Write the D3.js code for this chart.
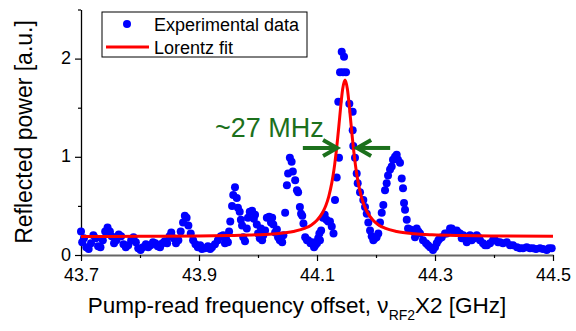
<!DOCTYPE html>
<html>
<head>
<meta charset="utf-8">
<script src="https://cdn.jsdelivr.net/npm/d3@7"></script>
<style>
  body { margin: 0; background: #fff; }
  svg { font-family: "Liberation Sans", Arial, sans-serif; }
</style>
</head>
<body>
<div id="chart"></div>
<script>
// experimental points [frequency GHz, reflected power a.u.]
const expData = [
  [43.700,0.24],[43.702,0.13],[43.705,0.17],[43.709,0.08],[43.713,0.06],[43.717,0.12],[43.721,0.20],[43.725,0.17],
  [43.729,0.09],[43.733,0.08],[43.737,0.15],[43.741,0.24],[43.745,0.28],[43.749,0.24],[43.752,0.19],[43.756,0.12],
  [43.760,0.15],[43.764,0.21],[43.768,0.19],[43.772,0.11],[43.776,0.08],[43.780,0.10],[43.785,0.15],[43.789,0.18],
  [43.793,0.13],[43.797,0.07],[43.801,0.05],[43.805,0.08],[43.810,0.11],[43.814,0.08],[43.818,0.10],[43.822,0.13],
  [43.826,0.12],[43.830,0.09],[43.834,0.08],[43.838,0.12],[43.842,0.14],[43.846,0.12],[43.850,0.19],[43.853,0.23],
  [43.857,0.17],[43.861,0.12],[43.865,0.15],[43.869,0.24],[43.873,0.33],[43.876,0.40],[43.879,0.38],[43.882,0.30],
  [43.886,0.22],[43.890,0.15],[43.894,0.11],[43.898,0.08],
  [43.902,0.10],[43.905,0.06],[43.910,0.07],[43.915,0.09],[43.919,0.06],[43.922,0.08],[43.927,0.11],[43.932,0.15],
  [43.937,0.19],[43.941,0.20],[43.944,0.12],[43.946,0.16],[43.949,0.13],[43.951,0.24],[43.953,0.34],[43.956,0.50],
  [43.958,0.61],[43.961,0.69],[43.964,0.58],[43.966,0.48],[43.969,0.44],[43.971,0.36],[43.973,0.30],[43.975,0.18],
  [43.978,0.14],[43.981,0.27],[43.983,0.38],[43.986,0.44],[43.990,0.45],[43.993,0.37],[43.995,0.41],[43.998,0.31],
  [44.000,0.22],[44.003,0.17],[44.005,0.27],[44.007,0.15],[44.009,0.20],[44.012,0.25],[44.015,0.38],[44.019,0.39],
  [44.022,0.33],[44.024,0.38],[44.026,0.31],[44.029,0.23],[44.032,0.26],[44.034,0.18],[44.037,0.15],[44.041,0.13],
  [44.043,0.20],[44.046,0.43],[44.049,0.71],[44.051,0.83],[44.054,0.99],[44.057,0.95],[44.059,0.85],[44.063,0.76],
  [44.066,0.66],[44.068,0.64],[44.071,0.49],[44.073,0.42],[44.075,0.40],[44.077,0.32],[44.080,0.18],[44.083,0.15],
  [44.085,0.15],[44.089,0.12],[44.092,0.13],[44.095,0.08],[44.097,0.10],[44.100,0.12],
  [44.102,0.17],[44.104,0.22],[44.105,0.15],[44.107,0.25],[44.110,0.38],[44.113,0.41],[44.116,0.36],[44.119,0.34],
  [44.122,0.34],[44.125,0.29],[44.128,0.22],[44.1305,0.56],[44.1334,0.79],[44.1361,1.56],[44.1373,0.99],[44.139,1.86],
  [44.1419,2.07],[44.1441,1.86],[44.1458,2.02],[44.1492,1.86],[44.1548,1.54],[44.1605,1.46],[44.1605,1.27],[44.1615,1.11],
  [44.1644,0.99],[44.1673,0.83],[44.169,0.73],[44.1729,0.64],[44.1785,0.56],[44.1814,0.49],[44.1843,0.42],[44.187,0.33],
  [44.1899,0.25],[44.1927,0.19],[44.1955,0.15],[44.1983,0.17],[44.2010,0.18],[44.2039,0.22],[44.2068,0.33],[44.2097,0.43],
  [44.2124,0.51],[44.2153,0.66],[44.2181,0.73],[44.2204,0.81],[44.2238,0.87],[44.2266,0.90],[44.2288,0.97],[44.2322,1.00],
  [44.2351,1.02],[44.2373,0.97],[44.2407,0.94],[44.2436,0.78],[44.2458,0.68],[44.2475,0.53],[44.2492,0.46],[44.2521,0.36],
  [44.2543,0.27],[44.2580,0.26],[44.2627,0.25],[44.2661,0.18],[44.2690,0.27],[44.2718,0.24],[44.2746,0.22],[44.2797,0.15],
  [44.2848,0.12],[44.2882,0.10],[44.2916,0.08],[44.2966,0.05],[44.3000,0.08],[44.3029,0.12],[44.3057,0.15],[44.3085,0.17],
  [44.3114,0.18],[44.3170,0.22],[44.3199,0.22],[44.3255,0.27],[44.3283,0.27],[44.3305,0.25],[44.3368,0.25],[44.3390,0.23],
  [44.3424,0.22],[44.3453,0.17],[44.3480,0.20],[44.3509,0.18],[44.3538,0.13],[44.3566,0.16],[44.3594,0.20],[44.3622,0.15],
  [44.3665,0.17],[44.3707,0.20],[44.3735,0.18],[44.3763,0.15],[44.3814,0.12],[44.3848,0.10],[44.3882,0.10],[44.3933,0.12],
  [44.3983,0.15],[44.4017,0.15],[44.4068,0.13],[44.4102,0.13],[44.4153,0.12],[44.4216,0.13],[44.4272,0.10],[44.4322,0.10],
  [44.4390,0.08],[44.4441,0.07],[44.4492,0.07],[44.4554,0.08],[44.4610,0.07],[44.4661,0.07],[44.4712,0.06],[44.4780,0.07],
  [44.4831,0.06],[44.4893,0.05],[44.4932,0.07],[44.4978,0.07]
];

// Lorentz fit curve
const fitFreq = [43.70, 43.80, 43.90, 43.95, 44.00, 44.03, 44.06, 44.08, 44.09, 44.10, 44.11, 44.115, 44.12, 44.125,
  44.1275, 44.13, 44.1325, 44.135, 44.1375, 44.14, 44.1435, 44.1475, 44.1515, 44.155, 44.1575, 44.16, 44.1625, 44.165,
  44.1675, 44.17, 44.175, 44.18, 44.185, 44.195, 44.205, 44.215, 44.235, 44.265, 44.295, 44.345, 44.395, 44.50];
const fitPower = [0.189, 0.190, 0.194, 0.198, 0.206, 0.217, 0.240, 0.274, 0.304, 0.353, 0.438, 0.504, 0.598, 0.732,
  0.819, 0.923, 1.046, 1.187, 1.342, 1.500, 1.690, 1.782, 1.690, 1.500, 1.342, 1.187, 1.046, 0.923,
  0.819, 0.732, 0.598, 0.504, 0.438, 0.353, 0.304, 0.274, 0.240, 0.217, 0.206, 0.198, 0.194, 0.190];

const xMajor = [43.7, 43.9, 44.1, 44.3, 44.5];
const xMinor = [43.8, 44.0, 44.2, 44.4];
const yMajor = [0, 1, 2];
const yMinor = [0.5, 1.5, 2.5];

const legendItems = ["Experimental data", "Lorentz fit"];
// width marker: text anchor and the two arrows (freq, power)
const widthLabel = {text: "~27 MHz", f: 43.927, p: 1.205};
const arrows = [
  {from: 44.076, to: 44.134, p: 1.09},
  {from: 44.224, to: 44.168, p: 1.09}
];

const W = 576, H = 331;
const margin = {top: 9.5, left: 81};
const width = 472, height = 245.5;
const green = "#1c701c";

const svg = d3.select("#chart").append("svg")
    .attr("width", W)
    .attr("height", H);

const g = svg.append("g")
    .attr("transform", `translate(${margin.left},${margin.top})`);

const x = d3.scaleLinear().domain([43.7, 44.5]).range([0, width]);
const y = d3.scaleLinear().domain([0, 2.5]).range([height, 0]);

// axes
const xAxis = g.append("g")
    .attr("transform", `translate(0,${height})`)
    .call(d3.axisBottom(x).tickValues(xMajor).tickFormat(d3.format(".1f")).tickSize(6).tickSizeOuter(0).tickPadding(7));
g.append("g")
    .attr("transform", `translate(0,${height})`)
    .call(d3.axisBottom(x).tickValues(xMinor).tickFormat("").tickSize(3).tickSizeOuter(0))
    .select(".domain").remove();
xAxis.select(".domain").attr("stroke", "#666").attr("stroke-width", 2);

const yAxis = g.append("g")
    .call(d3.axisLeft(y).tickValues(yMajor).tickFormat(d3.format("d")).tickSize(6).tickSizeOuter(0).tickPadding(4));
g.append("g")
    .call(d3.axisLeft(y).tickValues(yMinor).tickFormat("").tickSize(3).tickSizeOuter(0))
    .select(".domain").remove();
yAxis.select(".domain").attr("stroke-width", 1.3);
yAxis.selectAll(".tick text").attr("dy", "0.28em");

g.selectAll(".tick text")
    .style("font-family", "'Liberation Sans', Arial, sans-serif")
    .style("font-size", "18px")
    .attr("fill", "#000");
g.selectAll(".tick line").attr("stroke-width", 1.2);

// data points
g.append("g").selectAll("circle")
    .data(expData)
    .enter().append("circle")
    .attr("cx", d => x(d[0]))
    .attr("cy", d => y(d[1]))
    .attr("r", 4)
    .attr("fill", "#0000ff");

// fit line
const line = d3.line()
    .x((d, i) => x(fitFreq[i]))
    .y(d => y(d))
    .curve(d3.curveMonotoneX);
g.append("path")
    .datum(fitPower)
    .attr("d", line)
    .attr("fill", "none")
    .attr("stroke", "#ff0000")
    .attr("stroke-width", 3);

// width annotation
g.append("text")
    .attr("x", x(widthLabel.f))
    .attr("y", y(widthLabel.p))
    .attr("fill", green)
    .style("font-size", "27px")
    .text(widthLabel.text);

arrows.forEach(a => {
    const x0 = x(a.from), x1 = x(a.to), yy = y(a.p);
    const dir = Math.sign(x1 - x0);
    g.append("line")
        .attr("x1", x0).attr("x2", x1 - dir * 2)
        .attr("y1", yy).attr("y2", yy)
        .attr("stroke", green)
        .attr("stroke-width", 4);
    g.append("path")
        .attr("d", `M${x1 - dir * 14},${yy - 8}L${x1},${yy}L${x1 - dir * 14},${yy + 8}`)
        .attr("fill", "none")
        .attr("stroke", green)
        .attr("stroke-width", 4)
        .attr("stroke-linejoin", "miter");
});

// legend
const legend = svg.append("g").attr("transform", "translate(102,12)");
legend.append("rect")
    .attr("width", 205).attr("height", 45)
    .attr("fill", "#fff").attr("stroke", "#000").attr("stroke-width", 1);
legend.append("circle")
    .attr("cx", 25).attr("cy", 12).attr("r", 4).attr("fill", "#0000ff");
legend.append("line")
    .attr("x1", 4).attr("x2", 47).attr("y1", 35).attr("y2", 35)
    .attr("stroke", "#ff0000").attr("stroke-width", 3);
legend.selectAll(".ltext")
    .data(legendItems)
    .enter().append("text")
    .attr("x", 52)
    .attr("y", (d, i) => 18.5 + i * 23)
    .style("font-size", "18px")
    .text(d => d);

// axis titles
svg.append("text")
    .attr("transform", "translate(32,132) rotate(-90)")
    .attr("text-anchor", "middle")
    .style("font-size", "23px")
    .text("Reflected power [a.u.]");

const xt = svg.append("text")
    .attr("x", 297)
    .attr("y", 313)
    .attr("text-anchor", "middle")
    .style("font-size", "22.5px");
xt.append("tspan").text("Pump-read frequency offset, \u03bd");
xt.append("tspan").attr("dy", 7).style("font-size", "14px").text("RF2");
xt.append("tspan").attr("dy", -7).text("X2 [GHz]");
</script>
</body>
</html>
